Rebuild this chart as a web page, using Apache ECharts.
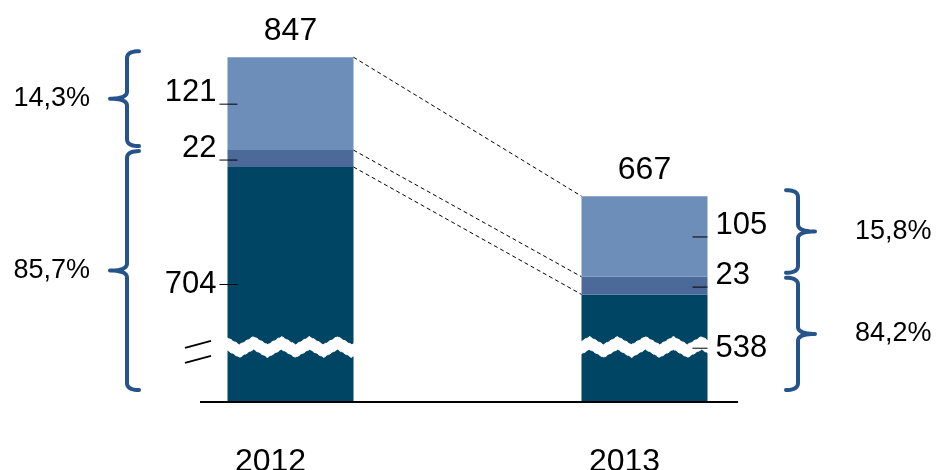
<!DOCTYPE html>
<html>
<head>
<meta charset="utf-8">
<script src="https://cdn.jsdelivr.net/npm/echarts@6.0.0/dist/echarts.min.js"></script>
<style>
html, body { margin: 0; padding: 0; background: #fff; }
#chart { width: 938px; height: 470px; }
</style>
</head>
<body>
<div id="chart"></div>
<script>
// values
var years = ['2012', '2013'];
var baseValues = [704, 538];
var midValues = [22, 23];
var topValues = [121, 105];
var totals = [847, 667];
var upperShare = ['14,3%', '15,8%'];
var lowerShare = ['85,7%', '84,2%'];

var FONT = '"Liberation Sans", Arial, sans-serif';
var BAR_W = 126;
var BRACE = '#27538C';

var myChart = echarts.init(document.getElementById('chart'));

// value label with a short leader tick into the bar
function segLabel(i, value, raise) {
    var left = i === 0;
    return {
        show: true,
        position: left ? 'left' : 'right',
        distance: left ? -10 : -15,
        offset: [0, raise],
        formatter: left ? '{v|' + value + '}{t|}' : '{t|}{v|' + value + '}',
        rich: {
            v: {
                fontFamily: FONT, fontSize: 31, color: '#000', lineHeight: 24,
                padding: left ? [0, 3, 0, 0] : [0, 0, 0, 8]
            },
            t: {
                width: left ? 18 : 15, height: 1, backgroundColor: '#000',
                verticalAlign: raise ? 'bottom' : 'middle'
            }
        }
    };
}

function barSeries(name, values, color) {
    return {
        name: name, type: 'bar', stack: 'a', barWidth: BAR_W, barGap: '-100%',
        itemStyle: { color: color },
        data: values
    };
}

// transparent twin stack, drawn above the axis break, that carries the labels
function labelSeries(name, values, raise) {
    return {
        name: name + '-label', type: 'bar', stack: 'lbl', barWidth: BAR_W, barGap: '-100%',
        z: 150, silent: true,
        itemStyle: { color: 'transparent' },
        data: values.map(function (v, i) {
            return { value: v, label: segLabel(i, v, raise) };
        })
    };
}

var option = {
    animation: false,
    backgroundColor: '#fff',
    grid: { left: 113.5, right: 116.5, top: 15, bottom: 68, outerBoundsMode: 'none' },
    xAxis: {
        type: 'category',
        data: years,
        axisLine: { show: false },
        axisTick: { show: false },
        axisLabel: {
            color: '#000', fontFamily: FONT, fontSize: 32, margin: 44,
            padding: [0, 40, 0, 0]
        }
    },
    yAxis: {
        type: 'value',
        min: 0,
        max: 902,
        breaks: [{ start: 64, end: 478, gap: '3.2%' }],
        breakArea: {
            show: true,
            itemStyle: { color: '#fff', borderColor: '#fff', borderWidth: 1, opacity: 1 },
            zigzagAmplitude: 4,
            zigzagMinSpan: 14,
            zigzagMaxSpan: 14,
            zigzagZ: 100,
            expandOnClick: false
        },
        axisLine: { show: false },
        axisTick: { show: false },
        axisLabel: { show: false },
        splitLine: { show: false }
    },
    series: [
        barSeries('base', baseValues, '#004564'),
        barSeries('mid', midValues, '#4B6A9A'),
        barSeries('top', topValues, '#6E8EBA'),
        labelSeries('base', baseValues, 0),
        labelSeries('mid', midValues, -10),
        labelSeries('top', topValues, -11),
        {
            name: 'total', type: 'bar', stack: 'lbl', barWidth: BAR_W, barGap: '-100%',
            z: 150, silent: true,
            itemStyle: { color: 'transparent' },
            data: years.map(function () { return 0; }),
            label: {
                show: true, position: 'top', distance: 10,
                color: '#000', fontFamily: FONT, fontSize: 32,
                formatter: function (p) { return String(totals[p.dataIndex]); }
            }
        }
    ]
};
myChart.setOption(option);

function px(i, v) {
    return myChart.convertToPixel({ gridIndex: 0 }, [i, v]);
}

function quad(pts, p0, p1, p2) {
    for (var k = 1; k <= 10; k++) {
        var t = k / 10, u = 1 - t;
        pts.push([
            u * u * p0[0] + 2 * u * t * p1[0] + t * t * p2[0],
            u * u * p0[1] + 2 * u * t * p1[1] + t * t * p2[1]
        ]);
    }
}

// curly brace as a polyline; dir = -1 points left, 1 points right
function brace(x, y1, y2, dir) {
    var ym = (y1 + y2) / 2;
    var ex = x - dir * 12, tx = x + dir * 17, r = 7;
    var pts = [[ex, y1]];
    quad(pts, [ex, y1], [x, y1], [x, y1 + r]);
    pts.push([x, ym - r]);
    quad(pts, [x, ym - r], [x, ym], [tx, ym]);
    quad(pts, [tx, ym], [x, ym], [x, ym + r]);
    pts.push([x, y2 - r]);
    quad(pts, [x, y2 - r], [x, y2], [ex, y2]);
    return pts;
}

var graphics = [];
var dash = { stroke: '#000', lineWidth: 1, lineDash: [4, 3] };

// connectors between the two bars
[
    [baseValues[0] + midValues[0] + topValues[0], baseValues[1] + midValues[1] + topValues[1]],
    [baseValues[0] + midValues[0], baseValues[1] + midValues[1]],
    [baseValues[0], baseValues[1]]
].forEach(function (pair) {
    var a = px(0, pair[0]), b = px(1, pair[1]);
    graphics.push({
        type: 'line', z: 200, silent: true,
        shape: { x1: a[0] + BAR_W / 2, y1: a[1], x2: b[0] - BAR_W / 2, y2: b[1] },
        style: dash
    });
});

// axis base line
var zero = px(0, 0);
graphics.push({
    type: 'line', z: 200, silent: true,
    shape: { x1: 200, y1: zero[1], x2: 738, y2: zero[1] },
    style: { stroke: '#000', lineWidth: 2 }
});

// break marks left of the first bar
var brk = px(0, 64);
[-5, 10].forEach(function (o) {
    graphics.push({
        type: 'line', z: 200, silent: true,
        shape: { x1: 185, y1: brk[1] + o, x2: 211, y2: brk[1] + o - 7 },
        style: { stroke: '#000', lineWidth: 2 }
    });
});

// braces with shares
years.forEach(function (y, i) {
    var left = i === 0;
    var yTop = px(i, baseValues[i] + midValues[i] + topValues[i])[1];
    var ySplit = px(i, baseValues[i] + midValues[i])[1];
    var bx = left ? 127 : 798;
    var dir = left ? -1 : 1;
    var parts = [
        [yTop - 6, ySplit - 4, upperShare[i]],
        [ySplit + 1, zero[1] - 12, lowerShare[i]]
    ];
    parts.forEach(function (b) {
        graphics.push({
            type: 'polyline', z: 200, silent: true,
            shape: { points: brace(bx, b[0], b[1], dir) },
            style: { fill: null, stroke: BRACE, lineWidth: 4, lineCap: 'round', lineJoin: 'round' }
        });
        graphics.push({
            type: 'text', z: 200, silent: true,
            x: left ? 90 : 855, y: (b[0] + b[1]) / 2,
            style: {
                text: b[2], fill: '#000', font: '27px ' + FONT,
                align: left ? 'right' : 'left', verticalAlign: 'middle'
            }
        });
    });
});

myChart.setOption({ graphic: graphics });
</script>
</body>
</html>
